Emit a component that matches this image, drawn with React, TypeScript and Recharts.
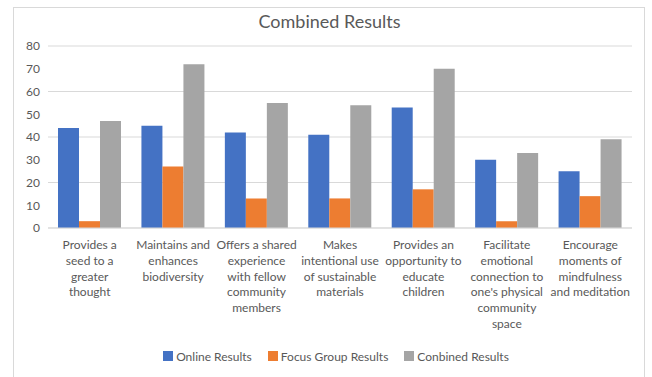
import React from "react";
import { BarChart, Bar, XAxis, YAxis, CartesianGrid, Legend } from "recharts";

const categories: string[][] = [
  ["Provides a", "seed to a", "greater", "thought"],
  ["Maintains and", "enhances", "biodiversity"],
  ["Offers a shared", "experience", "with fellow", "community", "members"],
  ["Makes", "intentional use", "of sustainable", "materials"],
  ["Provides an", "opportunity to", "educate", "children"],
  ["Facilitate", "emotional", "connection to", "one's physical", "community", "space"],
  ["Encourage", "moments of", "mindfulness", "and meditation"],
];
const onlineResults = [44, 45, 42, 41, 53, 30, 25];
const focusGroupResults = [3, 27, 13, 13, 17, 3, 14];
const combinedResults = [47, 72, 55, 54, 70, 33, 39];
const yTicks = [0, 10, 20, 30, 40, 50, 60, 70, 80];
const seriesNames = ["Online Results", "Focus Group Results", "Conbined Results"];
const title = "Combined Results";

const data = categories.map((c, i) => ({
  key: String(i),
  online: onlineResults[i],
  focus: focusGroupResults[i],
  combined: combinedResults[i],
}));

const FONT = "Lato, 'Open Sans', sans-serif";
const TEXT = "#595959";

const CategoryTick = (props: any) => {
  const { x, y, payload } = props;
  const lines = categories[Number(payload.value)] || [];
  return (
    <text x={x} y={y} textAnchor="middle" fill={TEXT} fontSize={12} fontFamily={FONT}>
      {lines.map((l, i) => (
        <tspan key={i} x={x} y={y + 21 + i * 15.8}>
          {l}
        </tspan>
      ))}
    </text>
  );
};

const LegendContent = (props: any) => {
  const payload = [...(props.payload || [])].sort(
    (a: any, b: any) => seriesNames.indexOf(a.value) - seriesNames.indexOf(b.value)
  );
  return (
    <div style={{ display: "flex", justifyContent: "center", alignItems: "center", height: 20, fontFamily: FONT, fontSize: 12, color: TEXT }}>
      {payload.map((p: any, i: number) => (
        <div key={i} style={{ display: "flex", alignItems: "center", marginRight: i < payload.length - 1 ? 16 : 0 }}>
          <div style={{ width: 10, height: 10, background: p.color, marginRight: 3 }} />
          <span>{p.value}</span>
        </div>
      ))}
    </div>
  );
};

export default function App() {
  return (
    <div style={{ position: "absolute", left: 0, top: 0, width: 652, height: 377, background: "#fff", overflow: "hidden" }}>
      <div
        style={{
          position: "absolute",
          left: 13,
          top: 7,
          width: 632,
          height: 380,
          border: "1px solid #d9d9d9",
          boxSizing: "border-box",
        }}
      />
      <div
        style={{
          position: "absolute",
          left: 13,
          top: 8,
          width: 633,
          textAlign: "center",
          fontFamily: FONT,
          fontSize: 18,
          lineHeight: "26px",
          color: TEXT,
        }}
      >
        {title}
      </div>
      <div style={{ position: "absolute", left: 0, top: 0 }}>
        <BarChart
          width={652}
          height={377}
          data={data}
          margin={{ top: 46, right: 20, bottom: 0, left: 0 }}
          barCategoryGap={10}
          barGap={0}
        >
          <CartesianGrid vertical={false} stroke="#d9d9d9" />
          <XAxis
            dataKey="key"
            tick={<CategoryTick />}
            tickLine={false}
            tickSize={0}
            tickMargin={0}
            axisLine={{ stroke: "#d9d9d9" }}
            height={129}
            interval={0}
          />
          <YAxis
            domain={[0, 80]}
            ticks={yTicks}
            width={48}
            axisLine={false}
            tickLine={false}
            tick={{ fill: TEXT, fontSize: 12, fontFamily: FONT }}
          />
          <Legend
            verticalAlign="bottom"
            content={<LegendContent />}
            wrapperStyle={{ bottom: 11, left: 10, width: 652, height: 20 }}
          />
          <Bar dataKey="online" name={seriesNames[0]} fill="#4472C4" isAnimationActive={false} />
          <Bar dataKey="focus" name={seriesNames[1]} fill="#ED7D31" isAnimationActive={false} />
          <Bar dataKey="combined" name={seriesNames[2]} fill="#A5A5A5" isAnimationActive={false} />
        </BarChart>
      </div>
    </div>
  );
}
